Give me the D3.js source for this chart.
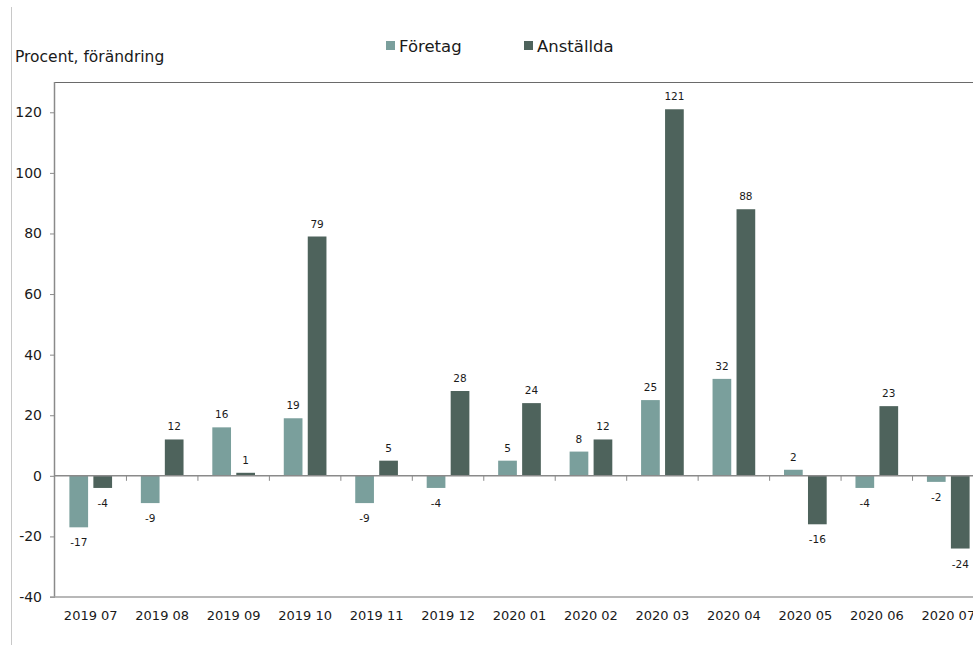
<!DOCTYPE html>
<html><head><meta charset="utf-8">
<script src="https://cdn.jsdelivr.net/npm/d3@7"></script>
<style>body{margin:0;background:#fff;overflow:hidden}svg{display:block}text{font-family:"DejaVu Sans",sans-serif;fill:#1a1a1a}</style>
</head><body>
<script>
const categories = ["2019 07","2019 08","2019 09","2019 10","2019 11","2019 12","2020 01","2020 02","2020 03","2020 04","2020 05","2020 06","2020 07"];
const foretag = [-17,-9,16,19,-9,-4,5,8,25,32,2,-4,-2];
const anstallda = [-4,12,1,79,5,28,24,12,121,88,-16,23,-24];
const seriesNames = ["Företag","Anställda"];
const seriesColors = ["#7a9f9c","#4e635c"];
const yTicks = [-40,-20,0,20,40,60,80,100,120];
const yLabel = "Procent, förändring";

(function(){
const W=973,H=645;
const svg=d3.select("body").append("svg").attr("width",W).attr("height",H);
const mL=55,mR=984,mT=82,mB=597;

const x=d3.scaleBand().domain(categories).range([mL,mR]).paddingInner(0).paddingOuter(0);
const xs=d3.scaleBand().domain(seriesNames).range([0,x.bandwidth()]).paddingInner(0.22).paddingOuter(0.6);
const y=d3.scaleLinear().domain([-40,130]).range([mB,mT]);

// outer left line
svg.append("line").attr("x1",11.5).attr("x2",11.5).attr("y1",7).attr("y2",H).attr("stroke","#c8c8c8");

// top border
svg.append("line").attr("x1",mL).attr("x2",W).attr("y1",mT+0.5).attr("y2",mT+0.5).attr("stroke","#6a6a6a").attr("stroke-width",1.2);

// y axis
const yAxis=d3.axisLeft(y).tickValues(yTicks).tickSize(5).tickPadding(8).tickFormat(d=>String(d));
const gy=svg.append("g").attr("transform",`translate(${mL},0)`).call(yAxis);
gy.select(".domain").attr("stroke","#8a8a8a").attr("stroke-width",1.5).attr("d",`M-0.5,${mT}V${mB}`);
gy.selectAll(".tick line").attr("stroke","#8a8a8a");
gy.selectAll(".tick text").attr("font-size",14).attr("font-family","DejaVu Sans").attr("fill","#1a1a1a");

// bottom axis line
svg.append("line").attr("x1",mL-5).attr("x2",W).attr("y1",mB).attr("y2",mB).attr("stroke","#a0a0a0").attr("stroke-width",1.5);

// x labels
const xAxis=d3.axisBottom(x).tickSize(0).tickPadding(14);
const gx=svg.append("g").attr("transform",`translate(0,${mB})`).call(xAxis);
gx.select(".domain").remove();
gx.selectAll(".tick text").attr("font-size",13).attr("font-family","DejaVu Sans").attr("fill","#1a1a1a");

// bars
const data=categories.map((c,i)=>({c,vals:[foretag[i],anstallda[i]]}));
const groups=svg.append("g").selectAll("g").data(data).join("g").attr("transform",d=>`translate(${x(d.c)},0)`);
groups.selectAll("rect").data(d=>d.vals.map((v,j)=>({v,s:seriesNames[j],j}))).join("rect")
  .attr("x",d=>xs(d.s)).attr("width",xs.bandwidth())
  .attr("y",d=>Math.min(y(d.v),y(0))).attr("height",d=>Math.abs(y(d.v)-y(0)))
  .attr("fill",d=>seriesColors[d.j]);
groups.selectAll("text").data(d=>d.vals.map((v,j)=>({v,s:seriesNames[j],j}))).join("text")
  .attr("x",d=>xs(d.s)+xs.bandwidth()/2)
  .attr("y",d=>d.v>=0? y(d.v)-9 : y(d.v)+19)
  .attr("text-anchor","middle").attr("font-size",10.5).text(d=>String(d.v));

// zero line
svg.append("line").attr("x1",mL).attr("x2",W).attr("y1",y(0)).attr("y2",y(0)).attr("stroke","#8a8a8a").attr("stroke-width",1.5);
// category ticks on zero line
svg.append("g").selectAll("line").data(categories.slice(1)).join("line")
  .attr("x1",d=>x(d)).attr("x2",d=>x(d)).attr("y1",y(0)).attr("y2",y(0)+5).attr("stroke","#8a8a8a");

// y label
svg.append("text").attr("x",15).attr("y",62).attr("font-size",15.5).text(yLabel);

// legend
const lg=svg.append("g");
const lx=[386,524];
seriesNames.forEach((n,i)=>{
  lg.append("rect").attr("x",lx[i]).attr("y",41).attr("width",9).attr("height",9).attr("fill",seriesColors[i]);
  lg.append("text").attr("x",lx[i]+13).attr("y",52).attr("font-size",16.5).text(n);
});
})();
</script>
</body></html>
